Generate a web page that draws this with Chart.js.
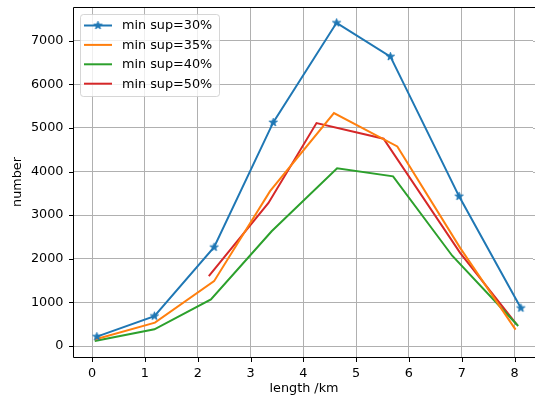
<!DOCTYPE html>
<html>
<head>
<meta charset="utf-8">
<script src="https://cdn.jsdelivr.net/npm/chart.js@4.4.1/dist/chart.umd.min.js"></script>
<style>
  html, body { margin: 0; padding: 0; background: #fff; overflow: hidden; }
  canvas { display: block; }
</style>
</head>
<body>
<canvas id="chart" width="535" height="401"></canvas>
<script>
// values
const seriesLabels = ["min sup=30%", "min sup=35%", "min sup=40%", "min sup=50%"];
const seriesColors = ["#1f77b4", "#ff7f0e", "#2ca02c", "#d62728"];

const len30 = [0.09, 1.18, 2.31, 3.43, 4.63, 5.65, 6.95, 8.12];
const num30 = [215, 686, 2265, 5126, 7410, 6636, 3432, 870];

const len35 = [0.05, 1.19, 2.31, 3.37, 4.58, 5.78, 6.97, 8.02];
const num35 = [150, 535, 1487, 3550, 5341, 4577, 2250, 375];

const len40 = [0.05, 1.18, 2.25, 3.40, 4.64, 5.70, 6.82, 8.07];
const num40 = [115, 382, 1069, 2632, 4075, 3890, 2070, 458];

const len50 = [2.21, 3.34, 4.25, 5.52, 6.97, 8.04];
const num50 = [1602, 3281, 5112, 4753, 2137, 497];

const xTicks = [0, 1, 2, 3, 4, 5, 6, 7, 8];
const yTicks = [0, 1000, 2000, 3000, 4000, 5000, 6000, 7000];

const FONT = "'DejaVu Sans', sans-serif";
const FS = 12.8;

function pairs(xs, ys) {
	return xs.map((x, i) => ({ x: x, y: ys[i] }));
}

// filled five point star like matplotlib's '*' marker
function starImage(color, r) {
	const size = Math.ceil(r * 2 + 4);
	const c = document.createElement("canvas");
	c.width = size;
	c.height = size;
	const g = c.getContext("2d");
	g.beginPath();
	for (let i = 0; i < 10; i++) {
		const rr = i % 2 ? r * 0.382 : r;
		const a = -Math.PI / 2 + (i * Math.PI) / 5;
		g.lineTo(size / 2 + rr * Math.cos(a), size / 2 + rr * Math.sin(a));
	}
	g.closePath();
	g.fillStyle = color;
	g.fill();
	g.lineWidth = 1;
	g.strokeStyle = color;
	g.stroke();
	return c;
}

const star = starImage(seriesColors[0], 4.3);

// black spines (left, top, bottom: the right one is cut off in the picture)
// and outward tick marks, drawn over the lines
const frameTicks = {
	id: "frameTicks",
	afterDatasetsDraw(chart) {
		const ctx = chart.ctx;
		const a = chart.chartArea;
		const xs = chart.scales.x;
		const ys = chart.scales.y;
		const l = Math.round(a.left) + 0.5;
		const t = Math.round(a.top) + 0.5;
		const b = Math.round(a.bottom) + 0.5;
		ctx.save();
		ctx.strokeStyle = "#000";
		ctx.lineWidth = 1;
		ctx.beginPath();
		ctx.moveTo(a.right, t);
		ctx.lineTo(l, t);
		ctx.lineTo(l, b);
		ctx.lineTo(a.right, b);
		xTicks.forEach((v) => {
			const px = Math.round(xs.getPixelForValue(v)) + 0.5;
			ctx.moveTo(px, b);
			ctx.lineTo(px, b + 4.5);
		});
		yTicks.forEach((v) => {
			const py = Math.round(ys.getPixelForValue(v)) + 0.5;
			ctx.moveTo(l, py);
			ctx.lineTo(l - 4.5, py);
		});
		ctx.stroke();

		// the picture ends before the right spine: keep the last columns open,
		// only grid lines and the top/bottom spines run to the edge
		const x1 = a.right - 2;
		ctx.fillStyle = "#fff";
		ctx.fillRect(x1, a.top - 1, 3, a.bottom - a.top + 2);
		ctx.beginPath();
		yTicks.forEach((v) => {
			const py = Math.round(ys.getPixelForValue(v)) + 0.5;
			ctx.moveTo(x1, py);
			ctx.lineTo(a.right + 1, py);
		});
		ctx.strokeStyle = "#b0b0b0";
		ctx.stroke();
		ctx.beginPath();
		ctx.moveTo(x1, t);
		ctx.lineTo(a.right + 1, t);
		ctx.moveTo(x1, b);
		ctx.lineTo(a.right + 1, b);
		ctx.strokeStyle = "#000";
		ctx.stroke();
		ctx.restore();
	},
};

// matplotlib style legend box in the upper left corner
const legendBox = {
	id: "legendBox",
	afterDraw(chart) {
		const ctx = chart.ctx;
		const a = chart.chartArea;
		const x0 = a.left + 7;
		const y0 = a.top + 7;
		const w = 139;
		const h = 82;
		ctx.save();
		ctx.beginPath();
		ctx.roundRect(x0 + 0.5, y0 + 0.5, w, h, 3);
		ctx.fillStyle = "rgba(255,255,255,0.8)";
		ctx.fill();
		ctx.strokeStyle = "rgba(204,204,204,0.8)";
		ctx.lineWidth = 1;
		ctx.stroke();
		ctx.font = FS + "px " + FONT;
		ctx.textBaseline = "middle";
		ctx.textAlign = "left";
		chart.data.datasets.forEach((ds, i) => {
			const cy = y0 + 11.5 + i * 19.4;
			ctx.beginPath();
			ctx.moveTo(x0 + 4, cy);
			ctx.lineTo(x0 + 32, cy);
			ctx.strokeStyle = ds.borderColor;
			ctx.lineWidth = 2;
			ctx.stroke();
			if (ds.pointStyle && typeof ds.pointStyle !== "string") {
				ctx.drawImage(ds.pointStyle, x0 + 18 - ds.pointStyle.width / 2, cy - ds.pointStyle.height / 2);
			}
			ctx.fillStyle = "#000";
			ctx.fillText(ds.label, x0 + 42, cy + 0.5);
		});
		ctx.restore();
	},
};

new Chart(document.getElementById("chart"), {
	type: "line",
	data: {
		datasets: [
			{
				label: seriesLabels[0],
				data: pairs(len30, num30),
				borderColor: seriesColors[0],
				backgroundColor: seriesColors[0],
				borderWidth: 2,
				pointStyle: star,
				pointRadius: 4,
			},
			{
				label: seriesLabels[1],
				data: pairs(len35, num35),
				borderColor: seriesColors[1],
				borderWidth: 2,
				pointRadius: 0,
			},
			{
				label: seriesLabels[2],
				data: pairs(len40, num40),
				borderColor: seriesColors[2],
				borderWidth: 2,
				pointRadius: 0,
			},
			{
				label: seriesLabels[3],
				data: pairs(len50, num50),
				borderColor: seriesColors[3],
				borderWidth: 2,
				pointRadius: 0,
			},
		],
	},
	options: {
		responsive: false,
		animation: false,
		layout: { autoPadding: false, padding: { top: 7, right: 0, left: 0, bottom: 0 } },
		plugins: {
			legend: { display: false },
			tooltip: { enabled: false },
		},
		scales: {
			x: {
				type: "linear",
				min: -0.362,
				max: 8.388,
				afterBuildTicks: (scale) => {
					scale.ticks = xTicks.map((v) => ({ value: v }));
				},
				afterFit: (scale) => {
					scale.height = 44;
					scale.paddingLeft = 0;
					scale.paddingRight = 0;
				},
				grid: { color: "#b0b0b0", lineWidth: 1, drawTicks: false },
				border: { display: false },
				ticks: {
					color: "#000",
					padding: 8.5,
					font: { family: FONT, size: FS },
					callback: (v) => String(v),
				},
				title: {
					display: true,
					text: "length /km",
					color: "#000",
					font: { family: FONT, size: FS },
					padding: { top: 0, bottom: 4.3 },
				},
			},
			y: {
				type: "linear",
				min: -252,
				max: 7773,
				afterBuildTicks: (scale) => {
					scale.ticks = yTicks.map((v) => ({ value: v }));
				},
				afterFit: (scale) => {
					scale.width = 73;
					scale.paddingTop = 0;
					scale.paddingBottom = 0;
				},
				grid: { color: "#b0b0b0", lineWidth: 1, drawTicks: false },
				border: { display: false },
				ticks: {
					color: "#000",
					padding: 9.5,
					font: { family: FONT, size: FS },
					callback: (v) => String(v),
				},
				title: {
					display: true,
					text: "number",
					color: "#000",
					font: { family: FONT, size: FS },
					padding: { top: 10.3, bottom: 0 },
				},
			},
		},
	},
	plugins: [frameTicks, legendBox],
});
</script>
</body>
</html>
